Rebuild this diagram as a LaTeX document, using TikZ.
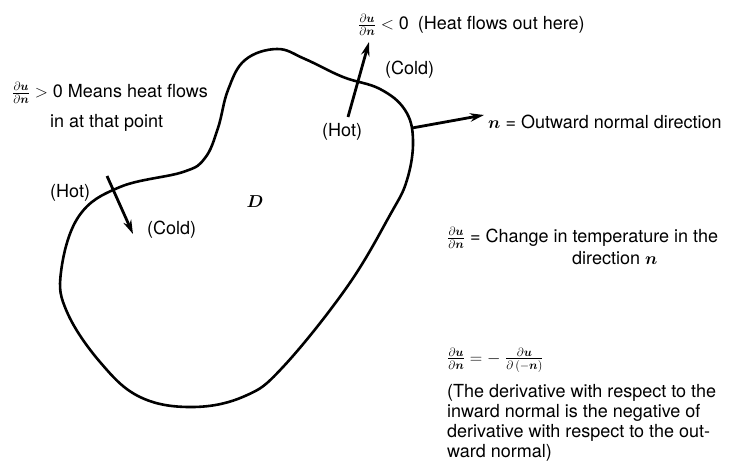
\documentclass[tikz,border=0pt]{standalone}
\usepackage{amsmath,bm}
\usepackage{fontspec}
\setmainfont{TeX Gyre Heros}
\usetikzlibrary{positioning,arrows.meta}

\newcommand{\dudn}{\frac{\partial\bm{u}}{\partial\bm{n}}}

\begin{document}
\begin{tikzpicture}[x=1pt,y=-1pt,
  every node/.style={font=\fontsize{18}{20}\selectfont, inner sep=0pt},
  lbl/.style={anchor=west},
  normal/.style={-{Stealth[length=14pt,width=8.5pt]}, line width=2.8pt},
  boundary/.style={line width=2.6pt}
]
\useasboundingbox (0,0) rectangle (740,463);

%% the region D
\draw[boundary] plot[smooth cycle, tension=0.65] coordinates {
  (61,272) (79,216) (120,187) (183,172) (205,158) (218,128) (228,90)
  (245,60) (277,49) (305,59) (343,77) (380,89) (405,110) (413,140)
  (407,180) (390,215) (347,287) (283,367) (245,396) (193,407)
  (140,397) (100,362) (67,312)};
\node (dom) at (255,202) {$\bm{D}$};

%% arrow ends
\coordinate (inhot)   at (107,176);
\coordinate (incold)  at (133,234);
\coordinate (outhot)  at (348,117);
\coordinate (outcold) at (369,42);
\coordinate (nbase)   at (412,128);
\coordinate (ntip)    at (484,115);

\draw[normal] (inhot)  -- (incold);
\draw[normal] (outhot) -- (outcold);
\draw[normal] (nbase)  -- (ntip);

%% labels at the arrows
\node[lbl] (hotin)   at (50,193)  {(Hot)};
\node[lbl] (coldin)  at (147,230) {(Cold)};
\node[lbl] (hotout)  at (322,132) {(Hot)};
\node[lbl] (coldout) at (385,70)  {(Cold)};

\node[lbl] (posnote) at (12,93) {$\dudn >$ 0 Means heat flows};
\node[lbl] (posnote2) at (50,123) {in at that point};
\node[lbl] (negnote) at (358,25) {$\dudn <$ 0\enspace(Heat flows out here)};
\node[lbl] (outnote) at (488,122) {$\bm{n}$ = Outward normal direction};

%% right column
\node[lbl] (change) at (447,238) {$\dudn$ = Change in temperature in the};
\node[lbl] (dirn)   at (572,258) {direction $\bm{n}$};
\node[lbl] (eqn)    at (447,360)
  {$\dudn = -\;\frac{\partial\bm{u}}{\partial\,(-\bm{n})}$};
\node[lbl, align=left] (remark) at (447,423)
  {(The derivative with respect to the\\
   inward normal is the negative of\\
   derivative with respect to the out-\\
   ward normal)};

\end{tikzpicture}
\end{document}
